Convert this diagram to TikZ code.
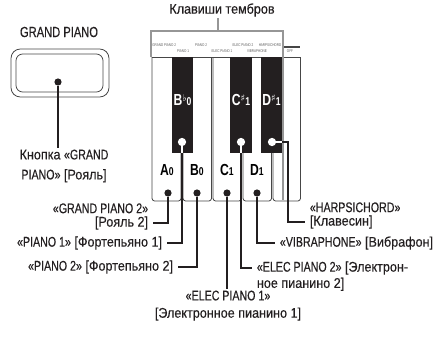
\documentclass[tikz,border=0pt]{standalone}
\usepackage{fontspec}
\setmainfont{Liberation Sans}[FakeStretch=0.9, UprightFeatures={FakeBold=0.35}]
\newfontfamily\latf{Liberation Sans}[FakeStretch=0.76, UprightFeatures={FakeBold=0.35}]
\newfontfamily\tinyf{Liberation Sans}[FakeStretch=0.76]
\newfontfamily\accfont{DejaVu Sans}
\usepackage{tikz}
\usetikzlibrary{positioning, calc}
\definecolor{inkblack}{RGB}{35, 31, 32}
\definecolor{framegray}{RGB}{150, 150, 150}
\definecolor{keyedge}{RGB}{70, 70, 70}

\newcommand{\lat}[1]{{\latf #1}}
\newcommand{\keynum}[1]{{\fontsize{8.5}{8.5}\selectfont #1}}
\newcommand{\kflat}{\raisebox{3pt}{\accfont\fontsize{7}{7}\selectfont ♭}}
\newcommand{\ksharp}{\raisebox{3pt}{\accfont\fontsize{7}{7}\selectfont ♯}}

\begin{document}
\begin{tikzpicture}[x=0.75pt, y=-0.75pt,
    lbl/.style={font=\fontsize{10.5}{13}\selectfont, text=inkblack, inner xsep=3.5pt, inner ysep=1pt},
    tinylbl/.style={font=\tinyf\fontsize{3}{3.5}\selectfont, text=black!65, inner sep=0pt},
    whitekey/.style={draw=keyedge, line width=0.6pt, fill=white, rounded corners=2pt},
    blackkey/.style={fill=inkblack},
    keyname/.style={font=\latf\bfseries\fontsize{12}{12}\selectfont, inner sep=0pt},
    dot/.style={circle, fill=inkblack, inner sep=0pt, minimum size=5.4pt},
    wdot/.style={circle, fill=white, inner sep=0pt, minimum size=6.2pt},
    conn/.style={draw=inkblack, line width=1.1pt},
    wconn/.style={draw=white, line width=1.1pt},
    frame/.style={draw=framegray, line width=0.9pt},
    btn/.style={draw=keyedge, line width=0.6pt}
]
    \useasboundingbox (0,0) rectangle (439,336);

    % GRAND PIANO button
    \node [lbl, font=\latf\fontsize{11}{13}\selectfont] (btntitle) at (59,32) {GRAND PIANO};
    \draw [btn, rounded corners=7pt] (11,49) rectangle (109,97);
    \draw [btn, rounded corners=5pt] (16,54) rectangle (103,92);
    \node [dot] (dBtn) at (58,82) {};
    \node [lbl, align=center, anchor=north, font=\fontsize{10.5}{15}\selectfont] (knopka) at (64,148) {Кнопка \lat{«GRAND}\\\lat{PIANO»} [Рояль]};
    \draw [conn] (dBtn) -- (dBtn |- knopka.north);

    % keyboard
    \foreach \xa/\xb in {152/181, 183/211.5, 213/241.5, 243/271.5, 273/300.5}
        \draw [whitekey] (\xa,57) -- (\xa,201) -- (\xb,201) -- (\xb,57);
    \draw [draw=keyedge, line width=0.6pt] (151.5,57) -- (301,57);
    \foreach \xa/\xb in {172/193, 230/252, 261/282}
        \fill [blackkey] (\xa,56.7) rectangle (\xb,153);

    % tone buttons frame
    \node [lbl, font=\fontsize{10.5}{13}\selectfont] (title) at (222,10) {Клавиши тембров};
    \coordinate (frametop) at (218,31);
    \draw [frame] (frametop) -- (frametop |- title.south);
    \draw [frame] (151,57) -- (151,31) -- (283,31) -- (283,200);

    \node [tinylbl, anchor=west] (tGP2) at (152,45) {GRAND PIANO 2};
    \node [tinylbl] (tP1)  at (183,51) {PIANO 1};
    \node [tinylbl] (tP2)  at (201,45) {PIANO 2};
    \node [tinylbl] (tEP1) at (222,51) {ELEC PIANO 1};
    \node [tinylbl] (tEP2) at (243,45) {ELEC PIANO 2};
    \node [tinylbl] (tVib) at (257,51) {VIBRAPHONE};
    \node [tinylbl] (tHC)  at (270,45) {HARPSICHORD};
    \node [tinylbl] (tOff) at (290,51) {OFF};
    \draw [draw=keyedge, line width=1pt] (284,47) -- (300,47);

    % key names
    \node [keyname] (nA)  at (167,170) {A\keynum{0}};
    \node [keyname] (nB)  at (197,170) {B\keynum{0}};
    \node [keyname] (nC)  at (227,170) {C\keynum{1}};
    \node [keyname] (nD)  at (257,170) {D\keynum{1}};
    \node [keyname, text=white] (nBb) at (182.5,100) {B\kflat\keynum{0}};
    \node [keyname, text=white] (nCs) at (241,100) {C\ksharp\keynum{1}};
    \node [keyname, text=white] (nDs) at (271.5,100) {D\ksharp\keynum{1}};

    % connection dots
    \node [dot]  (dA)  at (168,193) {};
    \node [dot]  (dB)  at (197,193) {};
    \node [dot]  (dC)  at (227,193) {};
    \node [dot]  (dD)  at (257,193) {};
    \node [wdot] (dBb) at (182,142) {};
    \node [wdot] (dCs) at (241,142) {};
    \node [wdot] (dDs) at (272,142) {};

    % labels
    \node [lbl, anchor=east] (gp2b) at (153,223) {[Рояль 2]};
    \node [lbl, anchor=south east] (gp2) at (gp2b.north east) {\lat{«GRAND PIANO 2»}};
    \node [lbl, anchor=east] (p1) at (167,243) {\lat{«PIANO 1»} [Фортепьяно 1]};
    \node [lbl, anchor=east] (p2) at (178,267) {\lat{«PIANO 2»} [Фортепьяно 2]};
    \node [lbl, align=center, anchor=north] (ep1) at (228,289) {\lat{«ELEC PIANO 1»}\\{[Электронное пианино 1]}};
    \node [lbl, anchor=west] (ep2) at (252,268) {\lat{«ELEC PIANO 2»} [Электрон-};
    \node [lbl, anchor=north west] (ep2b) at (ep2.south west) {ное пианино 2]};
    \node [lbl, anchor=west] (vib) at (275,243) {\lat{«VIBRAPHONE»} [Вибрафон]};
    \node [lbl, anchor=west] (hcb) at (305,222) {[Клавесин]};
    \node [lbl, anchor=south west] (hc) at (hcb.north west) {\lat{«HARPSICHORD»}};

    % connectors
    \draw [conn] (dA) |- (gp2b.east);
    \draw [conn] (dBb) |- (p1.east);
    \draw [conn] (dB) |- (p2.east);
    \draw [conn] (dC) -- (ep1.north -| dC);
    \draw [conn] (dCs) |- (ep2.west);
    \draw [conn] (dD) |- (vib.west);
    \draw [conn] (dDs) -- ++(16,0) |- (hcb.west);
    \draw [wconn] (dBb) -- ++(0,11);
    \draw [wconn] (dCs) -- ++(0,11);
    \draw [wconn] (dDs) -- ++(10,0);
\end{tikzpicture}
\end{document}
